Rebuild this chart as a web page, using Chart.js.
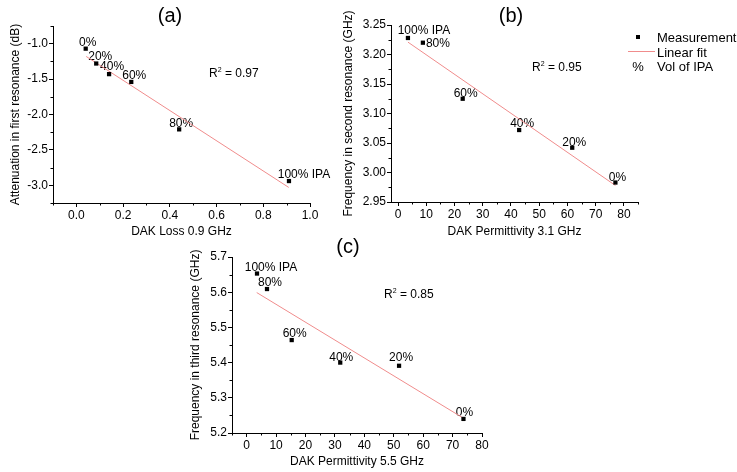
<!DOCTYPE html>
<html>
<head>
<meta charset="utf-8">
<script src="https://cdn.jsdelivr.net/npm/chart.js@4.4.0/dist/chart.umd.min.js"></script>
<style>
    body { margin: 0; background: #fff; }
    #wrap { position: relative; width: 737px; height: 472px; overflow: hidden; font-family: "Liberation Sans", Arial, sans-serif; color: #000; }
    canvas { position: absolute; }
    .t { position: absolute; white-space: nowrap; line-height: 1; }
    .c { transform: translate(-50%, -50%); }
    .m { transform: translateY(-50%); }
    sup { font-size: 7px; vertical-align: 5px; }
</style>
</head>
<body>
<div id="wrap">
    <canvas id="chart-a" width="340" height="245" style="left:0;top:0"></canvas>
    <canvas id="chart-b" width="340" height="245" style="left:330px;top:0"></canvas>
    <canvas id="chart-c" width="340" height="237" style="left:175px;top:235px"></canvas>

    <div class="t c" style="left:170px;top:15px;font-size:20px">(a)</div>
    <div class="t c" style="left:511px;top:15px;font-size:20px">(b)</div>
    <div class="t c" style="left:348px;top:246px;font-size:20px">(c)</div>

    <div class="t m" style="left:209px;top:72px;font-size:12px">R<sup>2</sup> = 0.97</div>
    <div class="t m" style="left:532px;top:66px;font-size:12px">R<sup>2</sup> = 0.95</div>
    <div class="t m" style="left:384px;top:293px;font-size:12px">R<sup>2</sup> = 0.85</div>

    <div style="position:absolute;left:636px;top:35px;width:4px;height:4px;background:#000"></div>
    <div class="t m" style="left:657px;top:37px;font-size:13px">Measurement</div>
    <div style="position:absolute;left:628px;top:51px;width:27px;height:1px;background:rgb(240,140,140)"></div>
    <div class="t m" style="left:657px;top:52px;font-size:13px">Linear fit</div>
    <div class="t c" style="left:638px;top:66px;font-size:13px">%</div>
    <div class="t m" style="left:657px;top:66px;font-size:13px">Vol of IPA</div>
</div>
<script>
    var volLabels = ['0%', '20%', '40%', '60%', '80%', '100% IPA'];

    // (a) attenuation vs DAK loss
    var lossA = [0.04, 0.085, 0.14, 0.235, 0.44, 0.91];
    var attenA = [-1.07, -1.28, -1.43, -1.54, -2.21, -2.94];
    var fitXA = [0.042, 0.909];
    var fitYA = [-1.18, -3.03];
    var xTicksA = [0, 0.2, 0.4, 0.6, 0.8, 1.0];
    var yTicksA = [-3.0, -2.5, -2.0, -1.5, -1.0];

    // (b) second resonance vs permittivity 3.1 GHz
    var permB = [77.0, 61.7, 42.9, 22.9, 8.8, 3.5];
    var freqB = [2.983, 3.042, 3.072, 3.125, 3.22, 3.228];
    var fitXB = [3.5, 77];
    var fitYB = [3.221, 2.978];
    var xTicksB = [0, 10, 20, 30, 40, 50, 60, 70, 80];
    var yTicksB = [2.95, 3.00, 3.05, 3.10, 3.15, 3.20, 3.25];

    // (c) third resonance vs permittivity 5.5 GHz
    var permC = [73.7, 51.8, 31.8, 15.3, 6.9, 3.5];
    var freqC = [5.24, 5.391, 5.40, 5.464, 5.609, 5.653];
    var fitXC = [3.4, 73.7];
    var fitYC = [5.599, 5.242];
    var xTicksC = [0, 10, 20, 30, 40, 50, 60, 70, 80];
    var yTicksC = [5.2, 5.3, 5.4, 5.5, 5.6, 5.7];

    // label nudges in px (dx, dy) from each point
    var labelOffsetsA = [[2, -6], [4, -7], [3, -7], [3, -6], [2, -6], [15, -6]];
    var labelOffsetsB = [[2, -5], [2, -5], [3, -6], [3, -5], [15, 1], [16, -7]];
    var labelOffsetsC = [[1, -6], [2, -8], [1, -5], [3, -6], [3, -6], [14, -6]];

    var FONT = '"Liberation Sans", Arial, sans-serif';
    Chart.defaults.font.family = FONT;
    Chart.defaults.color = '#000';

    function pairs(xs, ys) {
        return xs.map(function (x, i) { return { x: x, y: ys[i] }; });
    }

    function minorTicks(min, max, step) {
        var out = [];
        var n = Math.round((max - min) / step);
        for (var i = 0; i <= n; i++) {
            if (i % 2 === 0) out.push(min + i * step);
        }
        return out;
    }

    var annotatePlugin = {
        id: 'annotate',
        beforeDatasetsDraw: function (chart, args, opts) {
            var ctx = chart.ctx;
            var xs = chart.scales.x, ys = chart.scales.y;
            var pts = chart.data.datasets[0].data;
            ctx.save();
            ctx.font = '12px ' + FONT;
            ctx.fillStyle = '#000';
            ctx.textAlign = 'center';
            ctx.textBaseline = 'middle';
            pts.forEach(function (p, i) {
                var off = opts.offsets[i];
                ctx.fillText(volLabels[i], xs.getPixelForValue(p.x) + off[0], ys.getPixelForValue(p.y) + off[1]);
            });
            ctx.restore();
        },
        afterDraw: function (chart, args, opts) {
            var ctx = chart.ctx;
            var xs = chart.scales.x, ys = chart.scales.y;
            var area = chart.chartArea;
            ctx.save();
            ctx.strokeStyle = '#000';
            ctx.lineWidth = 1;
            ctx.beginPath();
            opts.minorX.forEach(function (v) {
                var px = Math.round(xs.getPixelForValue(v)) + 0.5;
                ctx.moveTo(px, Math.round(area.bottom));
                ctx.lineTo(px, Math.round(area.bottom) + 2.5);
            });
            opts.minorY.forEach(function (v) {
                var py = Math.round(ys.getPixelForValue(v)) + 0.5;
                ctx.moveTo(Math.round(area.left), py);
                ctx.lineTo(Math.round(area.left) - 2.5, py);
            });
            ctx.stroke();
            ctx.restore();
        }
    };

    function axis(min, max, ticks, digits, title, titlePad, size) {
        return {
            type: 'linear',
            min: min,
            max: max,
            afterBuildTicks: function (s) {
                s.ticks = ticks.map(function (v) { return { value: v }; });
            },
            afterFit: function (s) {
                if (s.isHorizontal()) s.height = size; else s.width = size;
            },
            grid: { display: true, drawOnChartArea: false, drawTicks: true, tickLength: 4, color: '#000', tickColor: '#000' },
            border: { display: true, color: '#000', width: 1 },
            ticks: {
                color: '#000', padding: 1, autoSkip: false, maxRotation: 0,
                font: { size: 12 },
                callback: function (v) { return Number(v).toFixed(digits); }
            },
            title: { display: true, text: title, color: '#000', font: { size: 12 }, padding: titlePad }
        };
    }

    function makeConfig(xv, yv, fx, fy, offsets, xScale, yScale, padding, minorX, minorY) {
        return {
            type: 'scatter',
            data: {
                datasets: [{
                    data: pairs(xv, yv),
                    pointStyle: 'rect',
                    pointRadius: 3,
                    backgroundColor: '#000',
                    borderColor: '#000',
                    borderWidth: 0,
                    order: 0
                }, {
                    data: pairs(fx, fy),
                    showLine: true,
                    borderColor: 'rgb(240,140,140)',
                    borderWidth: 1,
                    pointRadius: 0,
                    order: 1
                }]
            },
            options: {
                responsive: false,
                animation: false,
                devicePixelRatio: 1,
                layout: { padding: padding },
                scales: { x: xScale, y: yScale },
                plugins: {
                    legend: { display: false },
                    tooltip: { enabled: false },
                    annotate: { offsets: offsets, minorX: minorX, minorY: minorY }
                }
            },
            plugins: [annotatePlugin]
        };
    }

    var configA = makeConfig(lossA, attenA, fitXA, fitYA, labelOffsetsA,
        axis(-0.1, 1.0, xTicksA, 1, 'DAK Loss 0.9 GHz', { top: 0, bottom: 6 }, 42),
        axis(-3.25, -0.75, yTicksA, 1, 'Attenuation in first resonance (dB)', { top: 8, bottom: 0 }, 53),
        { left: 0, top: 26, right: 30, bottom: 0 },
        minorTicks(-0.1, 1.0, 0.1), minorTicks(-3.25, -0.75, 0.25));

    var configB = makeConfig(permB, freqB, fitXB, fitYB, labelOffsetsB,
        axis(-2.5, 85, xTicksB, 0, 'DAK Permittivity 3.1 GHz', { top: 0, bottom: 6 }, 43),
        axis(2.95, 3.25, yTicksB, 2, 'Frequency in second resonance (GHz)', { top: 11, bottom: 0 }, 61),
        { left: 0, top: 25, right: 32, bottom: 0 },
        minorTicks(5, 85, 5), minorTicks(2.975, 3.225, 0.025));

    var configC = makeConfig(permC, freqC, fitXC, fitYC, labelOffsetsC,
        axis(-5, 80, xTicksC, 0, 'DAK Permittivity 5.5 GHz', { top: 0, bottom: 3 }, 39),
        axis(5.2, 5.7, yTicksC, 1, 'Frequency in third resonance (GHz)', { top: 13, bottom: 0 }, 57),
        { left: 0, top: 22, right: 33, bottom: 0 },
        minorTicks(-5, 75, 5), minorTicks(5.25, 5.65, 0.05));

    window.onload = function () {
        var ctx = document.getElementById('chart-a').getContext('2d');
        window.chartA = new Chart(ctx, configA);

        ctx = document.getElementById('chart-b').getContext('2d');
        window.chartB = new Chart(ctx, configB);

        ctx = document.getElementById('chart-c').getContext('2d');
        window.chartC = new Chart(ctx, configC);
    };
</script>
</body>
</html>
